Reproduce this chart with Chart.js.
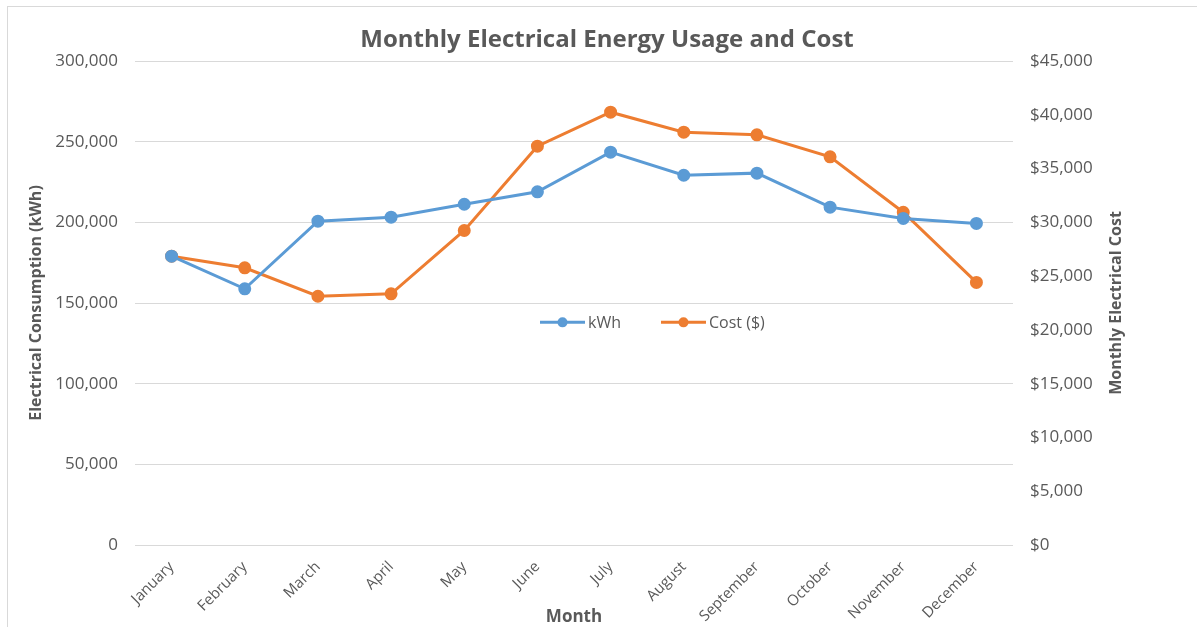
<!DOCTYPE html>
<html><head><meta charset="utf-8">
<script src="https://cdn.jsdelivr.net/npm/chart.js@4.4.1/dist/chart.umd.min.js"></script>
<style>
html,body{margin:0;padding:0;background:#fff;}
#wrap{position:relative;width:1197px;height:627px;overflow:hidden;background:#fff;}
#frame{position:absolute;left:7px;top:6px;width:1300px;height:700px;border-left:1px solid #d9d9d9;border-top:1px solid #d9d9d9;}
canvas{position:absolute;left:0;top:0;}
</style></head><body>
<div id="wrap"><div id="frame"></div><canvas id="c" width="1197" height="627"></canvas></div>
<script>
const months = ['January','February','March','April','May','June','July','August','September','October','November','December'];
const kwhValues = [179000,158800,200700,203200,211200,218900,243500,229200,230500,209400,202400,199300];
const costValues = [26850,25770,23130,23350,29240,37080,40240,38380,38140,36090,30940,24410];
const chartTitle = 'Monthly Electrical Energy Usage and Cost';
const kwhLabel = 'kWh';
const costLabel = 'Cost ($)';
const rightAxisTitle = 'Monthly Electrical Cost';

const TXT = '#595959';
const FONT = '"Open Sans", sans-serif';

const titlePlugin = {
  id: 'customTitle',
  afterDraw(chart) {
    const ctx = chart.ctx;
    ctx.save();
    ctx.font = 'bold 24px ' + FONT;
    ctx.fillStyle = TXT;
    ctx.textAlign = 'center';
    ctx.textBaseline = 'middle';
    ctx.fillText(chartTitle, 607, 40);
    // right axis title, reading bottom-to-top
    const a = chart.chartArea;
    ctx.font = 'bold 16px ' + FONT;
    ctx.translate(1116, (a.top + a.bottom) / 2);
    ctx.rotate(-Math.PI / 2);
    ctx.fillText(rightAxisTitle, 0, 0);
    ctx.restore();
  }
};

const legendPlugin = {
  id: 'midLegend',
  afterDraw(chart) {
    const ctx = chart.ctx;
    const y = chart.scales.y.getPixelForValue(138000);
    let x = 540;
    ctx.save();
    ctx.font = '16px ' + FONT;
    ctx.textBaseline = 'middle';
    ctx.textAlign = 'left';
    chart.data.datasets.forEach(ds => {
      ctx.strokeStyle = ds.borderColor;
      ctx.lineWidth = 3;
      ctx.beginPath(); ctx.moveTo(x, y); ctx.lineTo(x + 45, y); ctx.stroke();
      ctx.fillStyle = ds.borderColor;
      ctx.beginPath(); ctx.arc(x + 22.5, y, 5, 0, Math.PI * 2); ctx.fill();
      ctx.fillStyle = TXT;
      ctx.fillText(ds.label, x + 48, y + 1);
      x += 48 + ctx.measureText(ds.label).width + 40;
    });
    ctx.restore();
  }
};

new Chart(document.getElementById('c'), {
  type: 'line',
  data: {
    labels: months,
    datasets: [
      { label: kwhLabel, data: kwhValues, yAxisID: 'y', borderColor: '#5B9BD5', backgroundColor: '#5B9BD5',
        borderWidth: 3, pointRadius: 5, pointBackgroundColor: '#5B9BD5', pointBorderColor: '#5B9BD5', tension: 0 },
      { label: costLabel, data: costValues, yAxisID: 'y1', borderColor: '#ED7D31', backgroundColor: '#ED7D31',
        borderWidth: 3, pointRadius: 5, pointBackgroundColor: '#ED7D31', pointBorderColor: '#ED7D31', tension: 0 }
    ]
  },
  options: {
    responsive: false,
    animation: false,
    layout: { padding: { top: 61, left: 8, right: 8, bottom: 0 } },
    plugins: { legend: { display: false }, title: { display: false }, tooltip: { enabled: false } },
    scales: {
      x: {
        offset: true,
        grid: { display: false, drawTicks: false },
        border: { display: false },
        ticks: { color: TXT, font: { family: FONT, size: 15 }, maxRotation: 45, minRotation: 45, padding: 13, autoSkip: false },
        title: { display: true, text: 'Month', color: TXT, font: { family: FONT, size: 17, weight: 'bold' }, padding: { top: 0, bottom: 0 } },
        afterFit: s => { s.height = 82; }
      },
      y: {
        position: 'left',
        min: 0, max: 300000,
        grid: { color: '#d9d9d9', lineWidth: 1, drawTicks: false },
        border: { display: false },
        ticks: { stepSize: 50000, color: TXT, font: { family: FONT, size: 17 }, padding: 17,
          callback: v => v.toLocaleString('en-US') },
        title: { display: true, text: 'Electrical Consumption (kWh)', color: TXT, font: { family: FONT, size: 16, weight: 'bold' }, padding: { top: 19, bottom: 0 } },
        afterFit: s => { s.width = 127; }
      },
      y1: {
        position: 'right',
        min: 0, max: 45000,
        grid: { drawOnChartArea: false, drawTicks: false },
        border: { display: false },
        ticks: { stepSize: 5000, color: TXT, font: { family: FONT, size: 17 }, padding: 17,
          callback: v => '$' + v.toLocaleString('en-US') },
        title: { display: false },
        afterFit: s => { s.width = 176; }
      }
    }
  },
  plugins: [titlePlugin, legendPlugin]
});
</script>
</body></html>
